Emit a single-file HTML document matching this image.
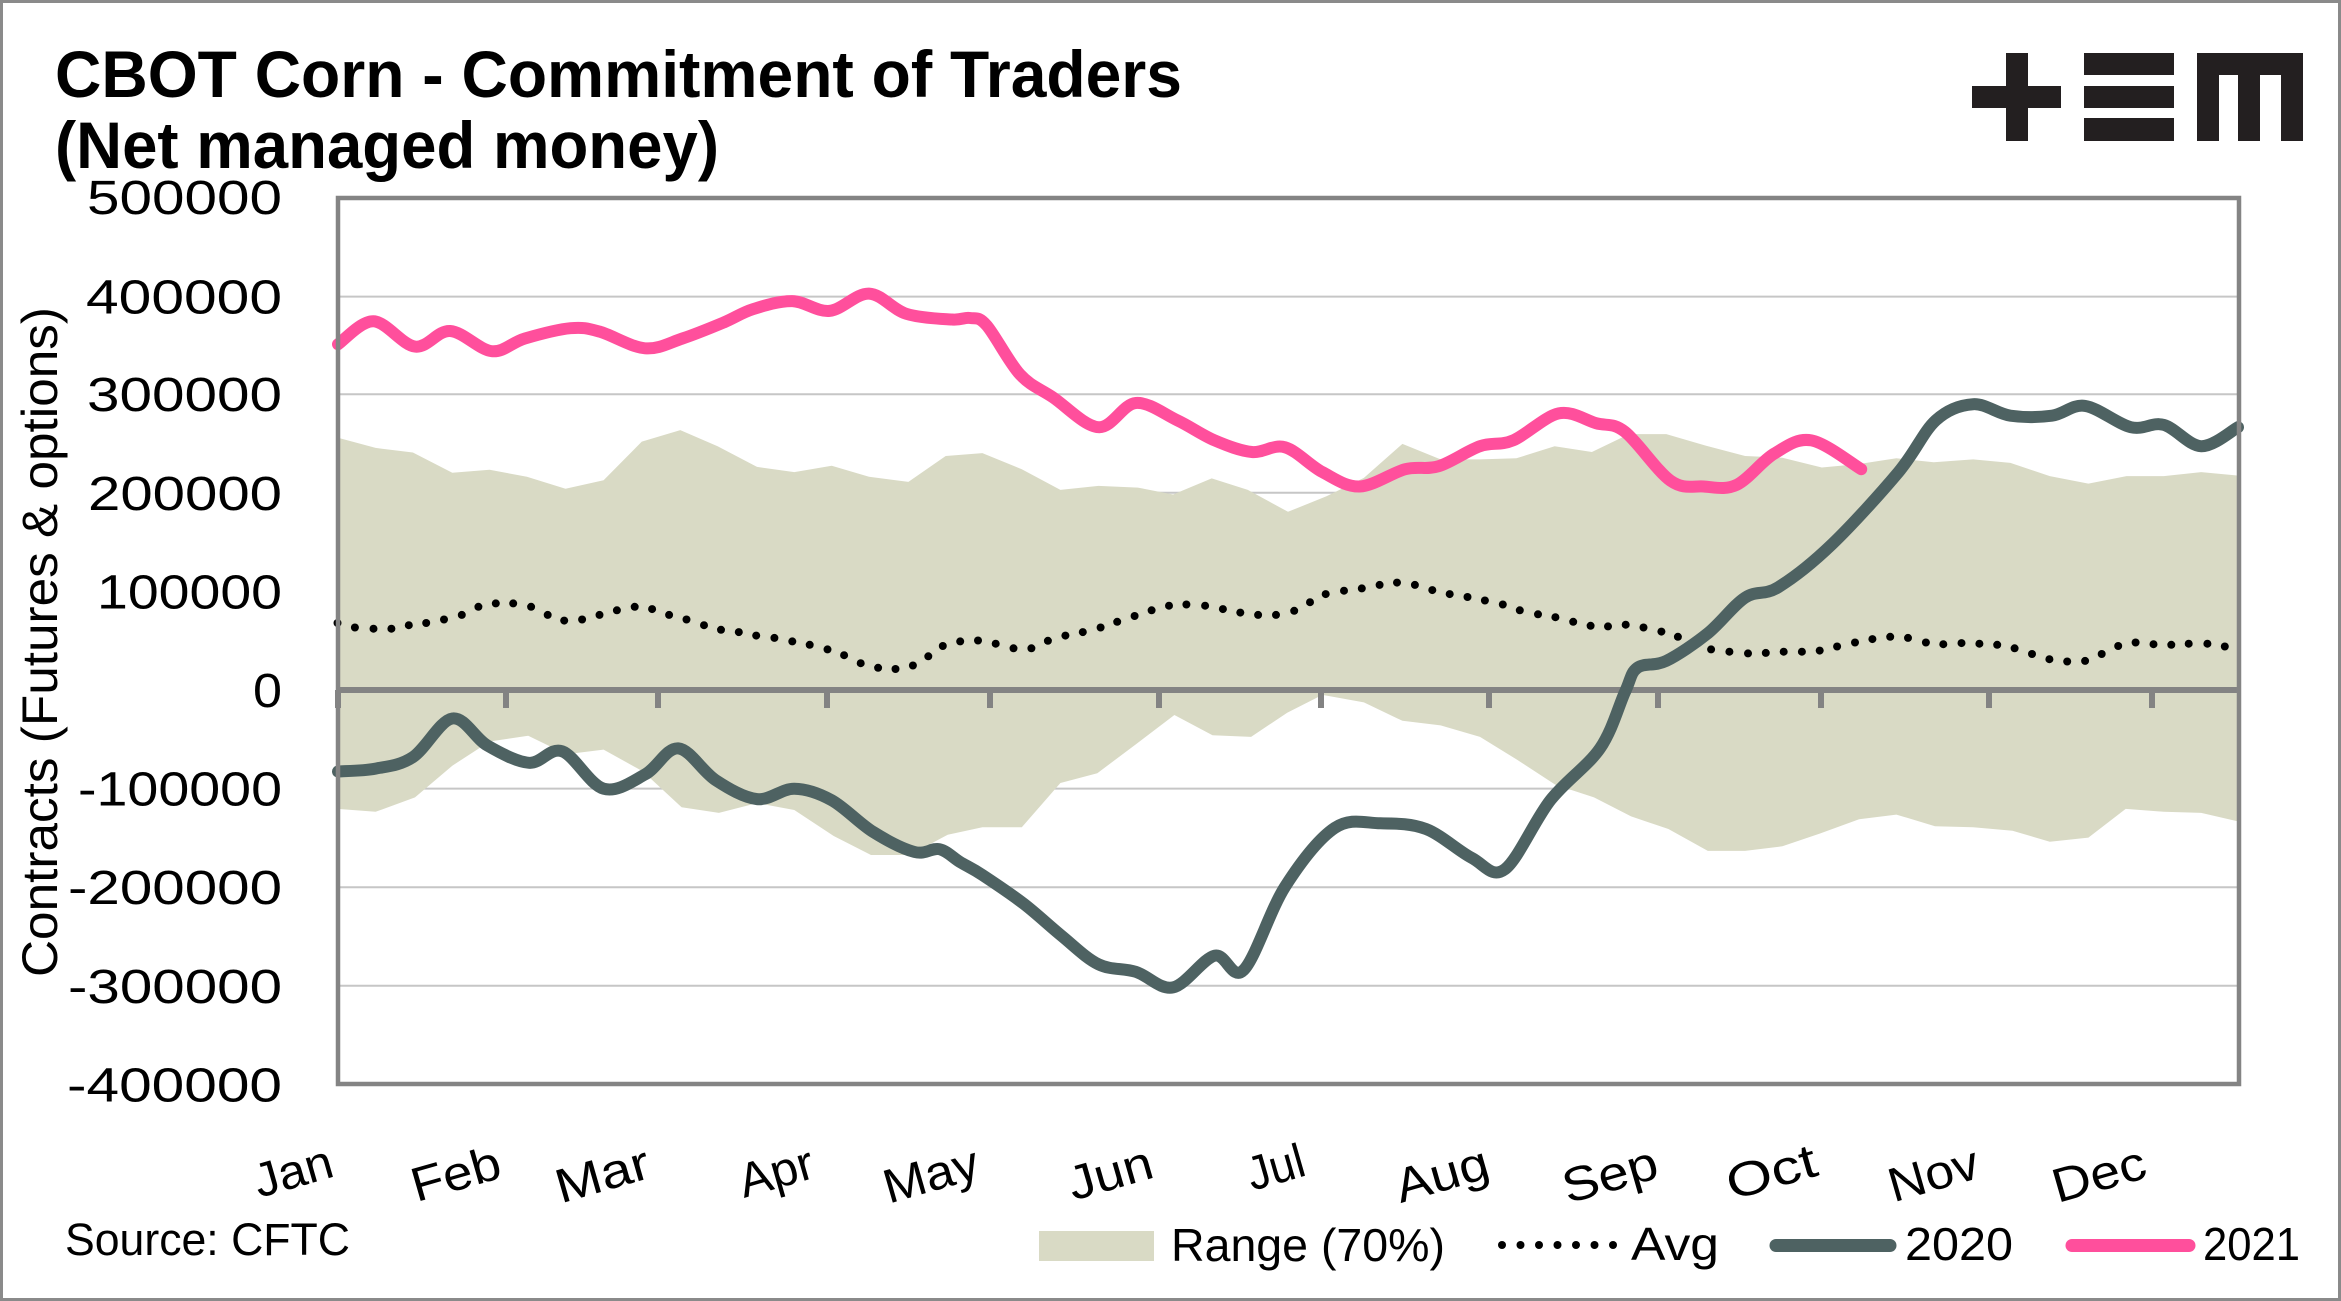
<!DOCTYPE html>
<html>
<head>
<meta charset="utf-8">
<style>
  html,body{margin:0;padding:0;background:#fff;}
  svg{display:block;}
  text{font-family:"Liberation Sans", Arial, sans-serif; fill:#000;}
</style>
</head>
<body>
<svg id="chart" width="2341" height="1301" viewBox="0 0 2341 1301" xmlns="http://www.w3.org/2000/svg">
  <!-- outer border -->
  <rect x="1.5" y="1.5" width="2338" height="1298" fill="#fff" stroke="#8a8a8a" stroke-width="3"/>

  <!-- Title -->
  <text x="55" y="97" font-size="66" font-weight="bold" textLength="1127" lengthAdjust="spacingAndGlyphs">CBOT Corn - Commitment of Traders</text>
  <text x="55" y="168" font-size="66" font-weight="bold" textLength="664" lengthAdjust="spacingAndGlyphs">(Net managed money)</text>

  <!-- Logo -->
  <g fill="#231f20">
    <rect x="2006" y="53" width="22" height="88"/>
    <rect x="1972" y="86" width="89" height="22"/>
    <rect x="2084" y="53" width="90" height="22"/>
    <rect x="2084" y="86" width="90" height="22"/>
    <rect x="2084" y="118" width="90" height="23"/>
    <rect x="2197" y="53" width="106" height="22"/>
    <rect x="2197" y="53" width="22" height="88"/>
    <rect x="2238" y="53" width="22" height="88"/>
    <rect x="2281" y="53" width="22" height="88"/>
  </g>

  <!-- gridlines -->
  <g stroke="#c6c6c6" stroke-width="2">
    <line x1="338" y1="296.6" x2="2239" y2="296.6"/>
    <line x1="338" y1="394.2" x2="2239" y2="394.2"/>
    <line x1="338" y1="492.8" x2="2239" y2="492.8"/>
    <line x1="338" y1="591.4" x2="2239" y2="591.4"/>
    <line x1="338" y1="788.6" x2="2239" y2="788.6"/>
    <line x1="338" y1="887.2" x2="2239" y2="887.2"/>
    <line x1="338" y1="985.8" x2="2239" y2="985.8"/>
  </g>

  <!-- Range area -->
  <polygon fill="#d9dac5" points="
337.5,437.6 375.6,447.9 412.9,452.5 452.3,472.7 489.6,469.8 526.9,476.7 565.5,488.8 603.6,480.2 641.8,441.6 680.3,430.1 717.6,446.2 757,466.9 794.3,472.1 831.7,465.8 869,476.7 908.4,481.9 945.7,456 982.4,453.1 1021.8,469.2 1060.4,489.9 1098.5,485.9 1137.9,487.6 1173.1,494.5 1211.7,478.4 1247.8,489.9 1288,511.8 1326.5,496.3 1363.9,477.9 1402.4,443.9 1440.6,459.4 1480,459.4 1516.4,458.3 1554.6,446.2 1591.9,452 1629,434.1 1666.3,434.1 1705.7,445.6 1745.1,456 1782.4,457.7 1821.8,467.5 1859.1,464 1896.4,458.3 1933.7,462.3 1973.1,459.4 2010.4,462.9 2049.8,476.1 2088.4,483.6 2126.5,476.1 2163.8,476.1 2201.2,472.1 2238.5,475.6
2238.5,821.5 2201.2,812.9 2163.8,811.8 2125.7,808.9 2088.4,837.6 2049.8,841.7 2012.5,830.8 1973.1,827.3 1935,826.2 1896.4,814.6 1859.1,819.2 1819.7,833.6 1782.4,846.3 1745.1,850.9 1707.8,850.9 1668.4,829 1631.1,816.4 1594,797.4 1555.4,784.7 1517.3,759.9 1480,736.9 1440.6,725.4 1402.4,720.8 1363.9,702.4 1322.4,694.9 1287.2,712.7 1251.1,736.9 1212.5,735.2 1174.4,715 1135.8,744.4 1097.3,773.2 1060.4,783 1021.8,827.3 982.4,827.3 947.7,834.8 909.6,855 871,855 833.7,836 794.3,810 757,803.1 718.9,812.9 681.6,807.2 643,771.5 603.6,749.6 566.3,754.2 528.2,735.8 489.6,741.5 452.3,765.7 415,797.4 375.6,811.8 337.5,808.9"/>

  <!-- zero axis + ticks -->
  <line x1="338" y1="690" x2="2239" y2="690" stroke="#838383" stroke-width="6"/>
  <g fill="#838383">
    <rect x="335" y="690" width="6" height="18"/>
    <rect x="503" y="690" width="6" height="18"/>
    <rect x="655" y="690" width="6" height="18"/>
    <rect x="824" y="690" width="6" height="18"/>
    <rect x="987" y="690" width="6" height="18"/>
    <rect x="1156" y="690" width="6" height="18"/>
    <rect x="1318" y="690" width="6" height="18"/>
    <rect x="1486" y="690" width="6" height="18"/>
    <rect x="1655" y="690" width="6" height="18"/>
    <rect x="1818" y="690" width="6" height="18"/>
    <rect x="1986" y="690" width="6" height="18"/>
    <rect x="2149" y="690" width="6" height="18"/>
  </g>

  <!-- Avg dots -->
  <g fill="#000">
    <circle cx="337.5" cy="623" r="4"/><circle cx="354.9" cy="627.5" r="4"/><circle cx="373.5" cy="628.7" r="4"/><circle cx="391.4" cy="628.7" r="4"/><circle cx="408.8" cy="625.2" r="4"/><circle cx="426.2" cy="623" r="4"/><circle cx="444" cy="619.5" r="4"/><circle cx="461.8" cy="614.9" r="4"/><circle cx="478.4" cy="606.8" r="4"/><circle cx="495.8" cy="603.4" r="4"/><circle cx="513.2" cy="603.4" r="4"/><circle cx="531.1" cy="606.8" r="4"/><circle cx="547.7" cy="614.9" r="4"/><circle cx="564.2" cy="620.6" r="4"/><circle cx="582.1" cy="619.5" r="4"/><circle cx="599.5" cy="614.9" r="4"/><circle cx="616.9" cy="610.3" r="4"/><circle cx="634.7" cy="606.8" r="4"/><circle cx="652.1" cy="609.1" r="4"/><circle cx="669.1" cy="614.9" r="4"/><circle cx="686.5" cy="619.5" r="4"/><circle cx="704" cy="625.2" r="4"/><circle cx="721" cy="629.8" r="4"/><circle cx="738.8" cy="632.1" r="4"/><circle cx="756.2" cy="635.6" r="4"/><circle cx="774.4" cy="637.9" r="4"/><circle cx="792.3" cy="641.4" r="4"/><circle cx="809.7" cy="644.8" r="4"/><circle cx="827.5" cy="649.4" r="4"/><circle cx="844.1" cy="655.2" r="4"/><circle cx="860.7" cy="663.2" r="4"/><circle cx="878.1" cy="667.8" r="4"/><circle cx="895.5" cy="669" r="4"/><circle cx="912.9" cy="665.5" r="4"/><circle cx="928.3" cy="656.3" r="4"/><circle cx="942.8" cy="646" r="4"/><circle cx="960.2" cy="641.4" r="4"/><circle cx="978" cy="640.5" r="4"/>
    <circle cx="995.7" cy="643.7" r="4"/><circle cx="1013.5" cy="648.3" r="4"/><circle cx="1031.4" cy="648.3" r="4"/><circle cx="1047.9" cy="640.8" r="4"/><circle cx="1065.4" cy="635.6" r="4"/><circle cx="1082.8" cy="632.1" r="4"/><circle cx="1100.6" cy="627.5" r="4"/><circle cx="1117.2" cy="621.8" r="4"/><circle cx="1134.6" cy="616" r="4"/><circle cx="1151.6" cy="610.3" r="4"/><circle cx="1169" cy="605.7" r="4"/><circle cx="1186.4" cy="604.5" r="4"/><circle cx="1205.1" cy="605.7" r="4"/><circle cx="1222.9" cy="609.1" r="4"/><circle cx="1240.3" cy="612.6" r="4"/><circle cx="1258.1" cy="614.9" r="4"/><circle cx="1276" cy="614.9" r="4"/><circle cx="1294.2" cy="610.8" r="4"/><circle cx="1310" cy="602.2" r="4"/><circle cx="1325.7" cy="594.1" r="4"/><circle cx="1344" cy="590.7" r="4"/><circle cx="1361.8" cy="588.4" r="4"/><circle cx="1379.6" cy="584.9" r="4"/><circle cx="1397" cy="582.6" r="4"/><circle cx="1414.9" cy="584.9" r="4"/><circle cx="1432.3" cy="590.1" r="4"/><circle cx="1449.7" cy="594.1" r="4"/><circle cx="1467.5" cy="597" r="4"/><circle cx="1484.9" cy="600.5" r="4"/><circle cx="1502.8" cy="604.5" r="4"/><circle cx="1519.8" cy="610.3" r="4"/><circle cx="1538" cy="614.3" r="4"/><circle cx="1555.4" cy="617.2" r="4"/><circle cx="1573.2" cy="621.8" r="4"/><circle cx="1590.6" cy="625.8" r="4"/><circle cx="1608" cy="626.4" r="4"/>
    <circle cx="1625.7" cy="624.7" r="4"/><circle cx="1643.5" cy="627.5" r="4"/><circle cx="1661.4" cy="631.6" r="4"/><circle cx="1677.9" cy="636.8" r="4"/><circle cx="1694.5" cy="643" r="4"/><circle cx="1711.1" cy="649.4" r="4"/><circle cx="1729.4" cy="651.7" r="4"/><circle cx="1748" cy="653.4" r="4"/><circle cx="1765.8" cy="652.9" r="4"/><circle cx="1783.7" cy="651.7" r="4"/><circle cx="1801.9" cy="651.7" r="4"/><circle cx="1819.7" cy="650.6" r="4"/><circle cx="1837.1" cy="646.5" r="4"/><circle cx="1855" cy="642.5" r="4"/><circle cx="1872.4" cy="639.1" r="4"/><circle cx="1890.2" cy="636.8" r="4"/><circle cx="1908" cy="637.9" r="4"/><circle cx="1925.9" cy="642.5" r="4"/><circle cx="1943.3" cy="644.2" r="4"/><circle cx="1961.5" cy="643.1" r="4"/><circle cx="1979.4" cy="643.7" r="4"/><circle cx="1997.2" cy="644.8" r="4"/><circle cx="2014.6" cy="648.3" r="4"/><circle cx="2032" cy="654" r="4"/><circle cx="2049.4" cy="659.2" r="4"/><circle cx="2067.2" cy="661.5" r="4"/><circle cx="2085.1" cy="660.9" r="4"/><circle cx="2101.7" cy="654" r="4"/><circle cx="2118.2" cy="646" r="4"/><circle cx="2135.6" cy="642.5" r="4"/><circle cx="2153.5" cy="644.2" r="4"/><circle cx="2171.3" cy="644.8" r="4"/><circle cx="2188.7" cy="643.7" r="4"/><circle cx="2207.4" cy="643.7" r="4"/><circle cx="2224.8" cy="646.5" r="4"/>
  </g>

  <!-- 2020 -->
  <polyline class="smooth" fill="none" stroke="#4e6262" stroke-width="12" stroke-linejoin="round" stroke-linecap="round" points="
338,771.5 375.6,768.6 412.9,757.1 452.3,718.5 487.5,745.6 529,762.8 562.2,751.3 603.6,788.7 645.1,774.4 678.3,748.4 715.6,780.1 757,799.1 794.3,788.7 831.7,800.2 873.1,831.9 914.6,852 939.5,849.2 960,862 982.4,875 1023.9,903.9 1061.2,935.5 1098.5,964.3 1135.8,971.8 1173.1,987.4 1214.6,955.7 1243.6,970.1 1285.1,886.6 1334.8,827.9 1380.4,823.3 1426,829 1471.6,857.8 1504.8,869.3 1550.4,800.2 1600,748.4 1625,692 1637.3,667.8 1666.3,660.9 1707.8,633.3 1745.1,597.6 1778.3,587.2 1832.2,544.1 1898.5,472.1 1935.8,420.3 1973.1,404.2 2010.4,415.7 2051.9,415.7 2085.1,405.9 2130.7,427.2 2163.8,424.9 2201.2,446.2 2238,427.2"/>

  <!-- 2021 -->
  <polyline class="smooth" fill="none" stroke="#ff4f9c" stroke-width="12" stroke-linejoin="round" stroke-linecap="round" points="
338,344.3 373.5,321.3 415,346.6 450.2,331 491.7,351.2 524.9,338.5 570.5,328.2 599.5,331.6 645,348.3 682.4,338.5 723.9,322.4 752.9,309.2 792.3,301.1 829.6,310.9 869,293.6 906.3,313.8 951.9,319.5 970,318 986.6,325.3 1019.8,374.2 1052.9,397.3 1098.5,427.2 1135.8,403 1177.3,420.3 1214.6,440.4 1251.9,452 1285.1,447.3 1322.4,472.1 1359.7,486.5 1405.3,469.2 1438.5,466.3 1480,446.2 1513.1,440.4 1558.7,413.4 1596,423.2 1624.9,431.8 1670.5,480.7 1703.6,486.5 1736.8,484.8 1774.1,453.7 1811.4,440.4 1861.2,469.2"/>

  <!-- plot frame -->
  <rect x="338" y="198" width="1901" height="886" fill="none" stroke="#848484" stroke-width="4.5"/>

  <!-- Y labels -->
  <g font-size="48" text-anchor="end">
    <text x="282" y="214" textLength="195" lengthAdjust="spacingAndGlyphs">500000</text>
    <text x="282" y="313.6" textLength="196" lengthAdjust="spacingAndGlyphs">400000</text>
    <text x="282" y="411.2" textLength="195" lengthAdjust="spacingAndGlyphs">300000</text>
    <text x="282" y="509.8" textLength="194" lengthAdjust="spacingAndGlyphs">200000</text>
    <text x="282" y="608.4" textLength="185" lengthAdjust="spacingAndGlyphs">100000</text>
    <text x="282" y="707" textLength="29" lengthAdjust="spacingAndGlyphs">0</text>
    <text x="282" y="805.6" textLength="204" lengthAdjust="spacingAndGlyphs">-100000</text>
    <text x="282" y="904.2" textLength="214" lengthAdjust="spacingAndGlyphs">-200000</text>
    <text x="282" y="1002.8" textLength="214" lengthAdjust="spacingAndGlyphs">-300000</text>
    <text x="282" y="1101.4" textLength="215" lengthAdjust="spacingAndGlyphs">-400000</text>
  </g>

  <!-- Y axis title -->
  <text transform="translate(57,642) rotate(-90)" x="0" y="0" font-size="50" text-anchor="middle" textLength="670" lengthAdjust="spacingAndGlyphs">Contracts (Futures &amp; options)</text>

  <!-- Month labels -->
  <g font-size="48" text-anchor="end">
    <text transform="translate(336,1176) rotate(-16)" textLength="80" lengthAdjust="spacingAndGlyphs">Jan</text>
    <text transform="translate(504,1177) rotate(-16)" textLength="91" lengthAdjust="spacingAndGlyphs">Feb</text>
    <text transform="translate(653,1177) rotate(-16)" textLength="96" lengthAdjust="spacingAndGlyphs">Mar</text>
    <text transform="translate(817,1177) rotate(-16)" textLength="76" lengthAdjust="spacingAndGlyphs">Apr</text>
    <text transform="translate(982,1177) rotate(-16)" textLength="97" lengthAdjust="spacingAndGlyphs">May</text>
    <text transform="translate(1156,1177) rotate(-16)" textLength="86" lengthAdjust="spacingAndGlyphs">Jun</text>
    <text transform="translate(1308,1175) rotate(-16)" textLength="58" lengthAdjust="spacingAndGlyphs">Jul</text>
    <text transform="translate(1492,1177) rotate(-16)" textLength="95" lengthAdjust="spacingAndGlyphs">Aug</text>
    <text transform="translate(1661,1177) rotate(-16)" textLength="97" lengthAdjust="spacingAndGlyphs">Sep</text>
    <text transform="translate(1820,1175) rotate(-16)" textLength="92" lengthAdjust="spacingAndGlyphs">Oct</text>
    <text transform="translate(1982,1177) rotate(-16)" textLength="92" lengthAdjust="spacingAndGlyphs">Nov</text>
    <text transform="translate(2149,1177) rotate(-16)" textLength="95" lengthAdjust="spacingAndGlyphs">Dec</text>
  </g>

  <!-- Source -->
  <text x="65" y="1255" font-size="45" textLength="285" lengthAdjust="spacingAndGlyphs">Source: CFTC</text>

  <!-- Legend -->
  <rect x="1039" y="1231" width="115" height="30" fill="#d9dac5"/>
  <text x="1171" y="1261" font-size="46" textLength="274" lengthAdjust="spacingAndGlyphs">Range (70%)</text>
  <g fill="#000">
    <circle cx="1502" cy="1245" r="4"/><circle cx="1520.5" cy="1245" r="4"/><circle cx="1539" cy="1245" r="4"/><circle cx="1557.5" cy="1245" r="4"/><circle cx="1576" cy="1245" r="4"/><circle cx="1594.5" cy="1245" r="4"/><circle cx="1613" cy="1245" r="4"/>
  </g>
  <text x="1631" y="1260" font-size="46" textLength="88" lengthAdjust="spacingAndGlyphs">Avg</text>
  <line x1="1776" y1="1245.5" x2="1890" y2="1245.5" stroke="#4e6262" stroke-width="13" stroke-linecap="round"/>
  <text x="1905" y="1260" font-size="46" textLength="108" lengthAdjust="spacingAndGlyphs">2020</text>
  <line x1="2072" y1="1245.5" x2="2189" y2="1245.5" stroke="#ff4f9c" stroke-width="13" stroke-linecap="round"/>
  <text x="2203" y="1260" font-size="46" textLength="97" lengthAdjust="spacingAndGlyphs">2021</text>
</svg>
<script>
(function(){
  try{
    var NS="http://www.w3.org/2000/svg";
    var lines=document.querySelectorAll("polyline.smooth");
    for(var k=0;k<lines.length;k++){
      var pl=lines[k];
      var raw=pl.getAttribute("points").trim().split(/\s+/);
      var p=[];
      for(var i=0;i<raw.length;i++){var c=raw[i].split(",");p.push([parseFloat(c[0]),parseFloat(c[1])]);}
      var d="M"+p[0][0]+","+p[0][1];
      for(var i=0;i<p.length-1;i++){
        var p0=p[i>0?i-1:i],p1=p[i],p2=p[i+1],p3=p[i+2<p.length?i+2:i+1];
        var c1x=p1[0]+(p2[0]-p0[0])/6,c1y=p1[1]+(p2[1]-p0[1])/6;
        var c2x=p2[0]-(p3[0]-p1[0])/6,c2y=p2[1]-(p3[1]-p1[1])/6;
        d+=" C"+c1x.toFixed(1)+","+c1y.toFixed(1)+" "+c2x.toFixed(1)+","+c2y.toFixed(1)+" "+p2[0]+","+p2[1];
      }
      var path=document.createElementNS(NS,"path");
      path.setAttribute("d",d);
      path.setAttribute("fill","none");
      path.setAttribute("stroke",pl.getAttribute("stroke"));
      path.setAttribute("stroke-width",pl.getAttribute("stroke-width"));
      path.setAttribute("stroke-linejoin","round");
      path.setAttribute("stroke-linecap","round");
      pl.parentNode.replaceChild(path,pl);
    }
  }catch(e){}
})();
</script>
</body>
</html>
